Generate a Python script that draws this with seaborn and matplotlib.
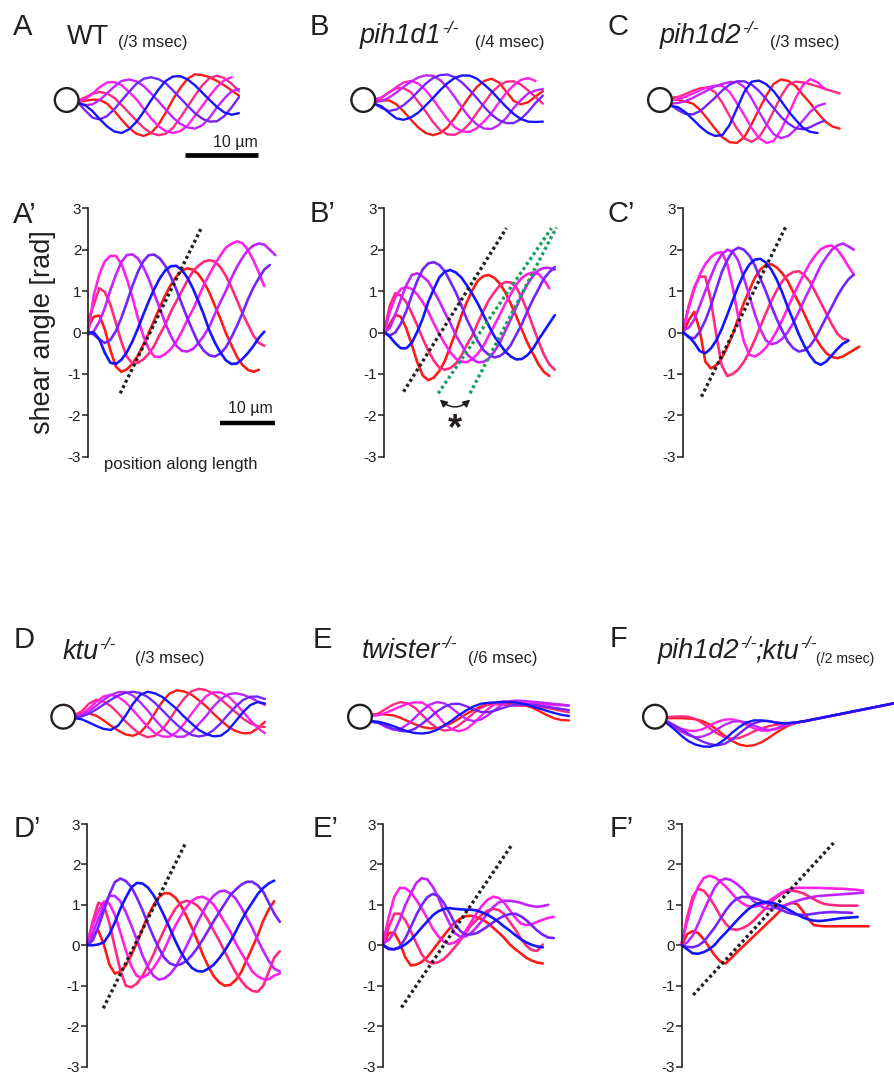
import matplotlib
matplotlib.use("Agg")
import matplotlib.pyplot as plt
import seaborn as sns
from matplotlib.patches import Circle

# ---------------- colours / frames ----------------
frames = ["red", "rose", "magenta", "violet", "purple", "blue"]
frame_colors = ["#ff1a1a", "#ff2a7f", "#ff22e6", "#c224ff", "#7424ff", "#1414ff"]

# ---------------- shear-angle data (x: µm along length, y: rad) ----------------
pos_A = [0, 1, 2, 3, 4, 5, 6, 7, 8, 9, 10, 11, 12, 13, 14, 15, 16, 17, 18, 19, 20, 21, 22, 23, 24, 25, 26, 27, 28, 29, 30, 31, 32, 33, 34]
shear_A_red = [0.14, 0.38, 0.41, 0.08, -0.42, -0.82, -0.95, -0.89, -0.76, -0.56, -0.30, -0.01, 0.30, 0.61, 0.90, 1.15, 1.35, 1.49, 1.55, 1.52, 1.41, 1.22, 0.97, 0.65, 0.34, -0.01, -0.30, -0.58, -0.78, -0.90, -0.95, -0.90]
shear_A_rose = [0.30, 0.67, 1.07, 0.98, 0.68, 0.24, -0.22, -0.58, -0.75, -0.73, -0.65, -0.51, -0.32, -0.05, 0.19, 0.50, 0.75, 1.00, 1.25, 1.47, 1.61, 1.71, 1.75, 1.71, 1.58, 1.37, 1.10, 0.79, 0.47, 0.20, -0.07, -0.25, -0.32]
shear_A_magenta = [0.0, 0.9, 1.4, 1.72, 1.85, 1.85, 1.66, 1.30, 0.86, 0.36, -0.08, -0.40, -0.58, -0.59, -0.52, -0.40, -0.22, 0.02, 0.30, 0.55, 0.84, 1.15, 1.40, 1.64, 1.86, 2.05, 2.14, 2.2, 2.16, 2.0, 1.75, 1.45, 1.12]
shear_A_violet = [-0.05, 0.03, 0.26, 0.59, 1.02, 1.39, 1.70, 1.87, 1.89, 1.79, 1.58, 1.29, 0.93, 0.58, 0.22, -0.08, -0.32, -0.44, -0.46, -0.40, -0.26, -0.08, 0.14, 0.44, 0.73, 1.00, 1.31, 1.58, 1.80, 1.99, 2.10, 2.15, 2.12, 2.0, 1.87]
shear_A_purple = [0.0, -0.05, -0.17, -0.25, -0.18, 0.03, 0.35, 0.72, 1.12, 1.46, 1.72, 1.87, 1.88, 1.79, 1.61, 1.35, 1.04, 0.69, 0.35, 0.04, -0.25, -0.44, -0.55, -0.58, -0.51, -0.36, -0.12, 0.15, 0.46, 0.79, 1.08, 1.31, 1.52, 1.63]
shear_A_blue = [0.0, 0.0, -0.16, -0.49, -0.73, -0.76, -0.66, -0.48, -0.22, 0.09, 0.43, 0.76, 1.05, 1.31, 1.50, 1.60, 1.61, 1.51, 1.33, 1.07, 0.76, 0.43, 0.05, -0.24, -0.48, -0.67, -0.76, -0.75, -0.64, -0.5, -0.33, -0.13, 0.02]
guide_A = ([5.8, 20.6], [-1.47, 2.54])

pos_B = [0, 1, 2, 3, 4, 5, 6, 7, 8, 9, 10, 11, 12, 13, 14, 15, 16, 17, 18, 19, 20, 21, 22, 23, 24, 25, 26, 27, 28, 29, 30, 31]
shear_B_red = [0.0, 0.2, 0.43, 0.38, 0.10, -0.30, -0.72, -1.04, -1.15, -1.09, -0.93, -0.69, -0.34, 0.01, 0.40, 0.73, 1.02, 1.25, 1.36, 1.39, 1.32, 1.18, 0.97, 0.69, 0.39, 0.07, -0.24, -0.50, -0.76, -0.95, -1.05]
shear_B_rose = [0.05, 0.65, 0.95, 0.89, 0.73, 0.47, 0.17, -0.15, -0.44, -0.68, -0.85, -0.9, -0.86, -0.75, -0.56, -0.30, -0.07, 0.23, 0.52, 0.78, 0.97, 1.14, 1.22, 1.21, 1.09, 0.84, 0.52, 0.16, -0.20, -0.53, -0.77, -0.9]
shear_B_magenta = [0.0, 0.5, 0.85, 1.05, 1.1, 1.05, 0.92, 0.73, 0.50, 0.22, -0.04, -0.27, -0.48, -0.63, -0.70, -0.72, -0.64, -0.51, -0.33, -0.07, 0.17, 0.43, 0.70, 0.93, 1.16, 1.32, 1.41, 1.45, 1.42, 1.28, 1.07]
shear_B_violet = [0.0, 0.11, 0.43, 0.80, 1.14, 1.39, 1.43, 1.35, 1.23, 1.00, 0.76, 0.48, 0.23, -0.07, -0.29, -0.52, -0.64, -0.72, -0.71, -0.63, -0.46, -0.25, 0.04, 0.32, 0.61, 0.91, 1.16, 1.36, 1.50, 1.56, 1.56, 1.52]
shear_B_purple = [0.0, -0.07, 0.0, 0.21, 0.52, 0.90, 1.25, 1.53, 1.67, 1.70, 1.63, 1.48, 1.23, 0.97, 0.66, 0.32, 0.05, -0.21, -0.42, -0.54, -0.6, -0.57, -0.47, -0.30, -0.05, 0.20, 0.51, 0.79, 1.04, 1.30, 1.46, 1.58]
shear_B_blue = [0.0, -0.1, -0.26, -0.38, -0.38, -0.25, 0.02, 0.34, 0.74, 1.05, 1.33, 1.47, 1.51, 1.45, 1.33, 1.14, 0.93, 0.70, 0.43, 0.16, -0.09, -0.28, -0.46, -0.58, -0.65, -0.64, -0.55, -0.40, -0.18, 0.02, 0.22, 0.42]
guide_B = ([3.5, 22.2], [-1.43, 2.52])
guide_B_green1 = ([9.8, 30.4], [-1.47, 2.52])
guide_B_green2 = ([15.6, 31.3], [-1.47, 2.54])
arrow_B = ([10.1, 15.6], [-1.62, -1.62])

pos_C = [0, 1, 2, 3, 4, 5, 6, 7, 8, 9, 10, 11, 12, 13, 14, 15, 16, 17, 18, 19, 20, 21, 22, 23, 24, 25, 26, 27, 28, 29, 30, 31, 32]
shear_C_red = [0.0, 0.3, 0.5, 0.05, -0.7, -0.87, -0.79, -0.62, -0.35, -0.04, 0.35, 0.71, 1.02, 1.32, 1.52, 1.63, 1.65, 1.57, 1.43, 1.24, 0.97, 0.72, 0.45, 0.16, -0.12, -0.33, -0.50, -0.59, -0.62, -0.58, -0.50, -0.42, -0.34]
shear_C_rose = [0.05, 0.65, 1.1, 1.35, 1.35, 0.79, -0.06, -0.8, -1.05, -1.0, -0.89, -0.71, -0.47, -0.18, 0.14, 0.46, 0.76, 1.02, 1.24, 1.38, 1.46, 1.48, 1.39, 1.23, 0.98, 0.72, 0.46, 0.20, -0.03, -0.15, -0.18]
shear_C_magenta = [0.1, 0.6, 1.05, 1.4, 1.65, 1.82, 1.92, 1.94, 1.65, 1.08, 0.37, -0.21, -0.54, -0.58, -0.50, -0.37, -0.19, 0.04, 0.30, 0.60, 0.89, 1.17, 1.43, 1.67, 1.86, 2.01, 2.08, 2.1, 2.0, 1.82, 1.6, 1.4]
shear_C_violet = [0.05, 0.12, 0.31, 0.65, 1.0, 1.35, 1.67, 1.89, 2.0, 1.95, 1.73, 1.32, 0.89, 0.45, 0.08, -0.19, -0.28, -0.25, -0.15, 0.01, 0.23, 0.50, 0.79, 1.06, 1.34, 1.62, 1.82, 2.0, 2.1, 2.15, 2.08, 2.0]
shear_C_purple = [0.0, -0.12, -0.14, 0.02, 0.29, 0.64, 1.05, 1.46, 1.75, 1.97, 2.05, 2.0, 1.86, 1.62, 1.30, 1.0, 0.64, 0.32, 0.04, -0.22, -0.38, -0.46, -0.43, -0.33, -0.14, 0.11, 0.37, 0.62, 0.88, 1.1, 1.28, 1.4]
shear_C_blue = [0.0, -0.1, -0.25, -0.45, -0.5, -0.39, -0.19, 0.09, 0.43, 0.78, 1.12, 1.42, 1.64, 1.76, 1.78, 1.69, 1.52, 1.27, 0.96, 0.61, 0.29, -0.04, -0.32, -0.55, -0.72, -0.78, -0.7, -0.55, -0.4, -0.27, -0.2]
guide_C = ([3.3, 18.8], [-1.55, 2.6])

pos_D = [0, 1, 2, 3, 4, 5, 6, 7, 8, 9, 10, 11, 12, 13, 14, 15, 16, 17, 18, 19, 20, 21, 22, 23, 24, 25, 26, 27, 28, 29, 30, 31, 32, 33, 34, 35]
shear_D_red = [0.0, 0.25, 0.37, 0.02, -0.47, -0.7, -0.65, -0.50, -0.24, 0.06, 0.39, 0.72, 0.98, 1.19, 1.29, 1.28, 1.18, 0.99, 0.73, 0.44, 0.12, -0.23, -0.52, -0.77, -0.92, -1.0, -0.98, -0.86, -0.66, -0.36, -0.06, 0.25, 0.61, 0.89, 1.09]
shear_D_rose = [0.05, 0.6, 1.05, 1.0, 0.56, -0.04, -0.62, -1.0, -1.04, -0.95, -0.76, -0.51, -0.24, 0.09, 0.38, 0.67, 0.90, 1.05, 1.1, 1.07, 0.98, 0.83, 0.61, 0.36, 0.11, -0.16, -0.43, -0.68, -0.88, -1.04, -1.13, -1.15, -1.0, -0.65, -0.3, -0.15]
shear_D_magenta = [0.1, 0.5, 0.85, 1.08, 1.03, 0.76, 0.32, -0.12, -0.52, -0.76, -0.8, -0.72, -0.57, -0.36, -0.11, 0.20, 0.48, 0.72, 0.94, 1.10, 1.18, 1.2, 1.13, 1.0, 0.79, 0.56, 0.34, 0.05, -0.19, -0.42, -0.65, -0.77, -0.84, -0.84, -0.75, -0.7]
shear_D_violet = [0.05, 0.3, 0.65, 0.98, 1.22, 1.22, 1.09, 0.82, 0.49, 0.14, -0.24, -0.54, -0.75, -0.85, -0.82, -0.72, -0.55, -0.30, -0.03, 0.25, 0.56, 0.82, 1.06, 1.23, 1.33, 1.35, 1.28, 1.15, 0.93, 0.68, 0.43, 0.13, -0.14, -0.39, -0.58, -0.65]
shear_D_purple = [0.0, 0.12, 0.45, 0.85, 1.25, 1.56, 1.65, 1.59, 1.44, 1.18, 0.88, 0.54, 0.22, -0.07, -0.31, -0.45, -0.5, -0.47, -0.39, -0.25, -0.07, 0.14, 0.37, 0.60, 0.82, 1.03, 1.24, 1.38, 1.50, 1.57, 1.57, 1.48, 1.32, 1.05, 0.78, 0.58]
shear_D_blue = [0.0, 0.0, 0.02, 0.07, 0.27, 0.56, 0.90, 1.18, 1.43, 1.54, 1.53, 1.43, 1.25, 1.0, 0.72, 0.42, 0.11, -0.17, -0.39, -0.56, -0.64, -0.65, -0.58, -0.48, -0.32, -0.13, 0.09, 0.34, 0.61, 0.85, 1.06, 1.27, 1.42, 1.53, 1.6]
guide_D = ([2.9, 17.8], [-1.56, 2.51])

pos_E = [0, 1, 2, 3, 4, 5, 6, 7, 8, 9, 10, 11, 12, 13, 14, 15, 16, 17, 18, 19, 20, 21, 22, 23, 24, 25, 26, 27, 28, 29, 30, 31]
shear_E_red = [0.0, 0.3, 0.31, 0.06, -0.30, -0.5, -0.48, -0.41, -0.29, -0.12, 0.06, 0.24, 0.41, 0.56, 0.66, 0.72, 0.73, 0.69, 0.64, 0.55, 0.43, 0.31, 0.18, 0.02, -0.10, -0.20, -0.31, -0.38, -0.43, -0.45]
shear_E_rose = [0.05, 0.45, 0.78, 0.78, 0.62, 0.35, 0.05, -0.23, -0.40, -0.45, -0.42, -0.34, -0.21, -0.05, 0.12, 0.31, 0.50, 0.63, 0.77, 0.86, 0.9, 0.87, 0.77, 0.58, 0.39, 0.17, -0.01, -0.12, -0.14, 0.02]
shear_E_magenta = [0.1, 0.7, 1.2, 1.42, 1.41, 1.31, 1.12, 0.91, 0.67, 0.41, 0.22, 0.09, 0.03, 0.07, 0.17, 0.36, 0.58, 0.80, 0.99, 1.13, 1.2, 1.17, 1.05, 0.86, 0.68, 0.54, 0.5, 0.52, 0.58, 0.63, 0.68, 0.7]
shear_E_violet = [0.05, 0.13, 0.33, 0.63, 0.99, 1.28, 1.54, 1.66, 1.63, 1.45, 1.18, 0.84, 0.55, 0.30, 0.21, 0.22, 0.31, 0.45, 0.62, 0.80, 0.95, 1.06, 1.1, 1.1, 1.08, 1.05, 1.0, 0.97, 0.95, 0.97, 1.0]
shear_E_purple = [0.0, -0.1, -0.1, -0.04, 0.17, 0.45, 0.75, 1.0, 1.19, 1.27, 1.22, 1.05, 0.81, 0.54, 0.35, 0.26, 0.27, 0.30, 0.38, 0.47, 0.57, 0.66, 0.73, 0.77, 0.78, 0.72, 0.62, 0.49, 0.36, 0.26, 0.19, 0.18]
shear_E_blue = [0.0, -0.08, -0.1, -0.06, 0.02, 0.13, 0.28, 0.44, 0.59, 0.74, 0.84, 0.9, 0.92, 0.9, 0.89, 0.88, 0.88, 0.86, 0.81, 0.75, 0.67, 0.57, 0.46, 0.36, 0.25, 0.15, 0.07, 0.01, -0.03, -0.05]
guide_E = ([3.3, 23.3], [-1.54, 2.47])

pos_F = [0, 1, 2, 3, 4, 5, 6, 7, 8, 9, 10, 11, 12, 13, 14, 15, 16, 17, 18, 19, 20, 21, 22, 23, 24, 25, 26, 27, 28, 29, 30, 31, 32, 33, 34, 35]
shear_F_red = [0.0, 0.28, 0.35, 0.30, 0.15, -0.05, -0.25, -0.40, -0.45, -0.32, -0.18, -0.05, 0.08, 0.21, 0.34, 0.47, 0.60, 0.73, 0.87, 1.0, 1.05, 1.02, 0.85, 0.65, 0.5, 0.48, 0.47, 0.47, 0.47, 0.47, 0.47, 0.47, 0.47, 0.47, 0.47]
shear_F_rose = [0.05, 0.7, 1.2, 1.4, 1.35, 1.19, 0.97, 0.73, 0.53, 0.40, 0.38, 0.42, 0.49, 0.60, 0.74, 0.88, 1.02, 1.16, 1.26, 1.33, 1.35, 1.33, 1.29, 1.22, 1.14, 1.07, 1.02, 1.0, 0.99, 0.98, 0.98, 0.98, 0.98]
shear_F_magenta = [0.05, 0.6, 1.1, 1.45, 1.66, 1.72, 1.68, 1.58, 1.45, 1.30, 1.15, 1.04, 0.97, 0.95, 0.98, 1.03, 1.11, 1.20, 1.29, 1.36, 1.40, 1.42, 1.42, 1.42, 1.42, 1.42, 1.41, 1.41, 1.40, 1.40, 1.39, 1.38, 1.37, 1.35]
shear_F_violet = [0.0, 0.07, 0.24, 0.53, 0.85, 1.15, 1.43, 1.6, 1.65, 1.61, 1.52, 1.40, 1.25, 1.10, 1.0, 0.92, 0.9, 0.92, 0.96, 1.0, 1.05, 1.1, 1.14, 1.17, 1.2, 1.22, 1.23, 1.24, 1.25, 1.26, 1.27, 1.28, 1.29, 1.3]
shear_F_purple = [0.0, -0.04, -0.05, -0.01, 0.09, 0.26, 0.44, 0.65, 0.86, 1.03, 1.15, 1.2, 1.19, 1.17, 1.13, 1.07, 1.01, 0.94, 0.88, 0.82, 0.78, 0.76, 0.75, 0.76, 0.78, 0.8, 0.81, 0.82, 0.82, 0.81, 0.81, 0.8]
shear_F_blue = [0.0, -0.1, -0.2, -0.21, -0.17, -0.10, 0.01, 0.17, 0.31, 0.46, 0.61, 0.75, 0.88, 0.98, 1.04, 1.07, 1.06, 1.03, 0.98, 0.91, 0.84, 0.76, 0.69, 0.64, 0.61, 0.6, 0.61, 0.63, 0.65, 0.67, 0.68, 0.69, 0.7]
guide_F = ([2.1, 27.6], [-1.23, 2.53])

# ---------------- waveform data (x, y in µm; head at origin) ----------------
wpos_A = [1.5, 2.5, 3.5, 4.5, 5.5, 6.5, 7.5, 8.5, 9.5, 10.5, 11.5, 12.5, 13.5, 14.5, 15.5, 16.5, 17.5, 18.5, 19.5, 20.5, 21.5, 22.5, 23.5]
wave_A_red = [-0.3, -0.1, 0.05, 0.03, -0.5, -1.5, -2.7, -3.8, -4.6, -4.9, -4.5, -3.4, -1.75, 0.1, 1.65, 2.9, 3.5, 3.4, 3.1, 2.6, 2.0, 1.3, 0.6]
wave_A_rose = [-0.1, 0.35, 0.85, 1.1, 0.9, 0.3, -0.7, -1.75, -2.8, -3.8, -4.5, -4.8, -4.6, -3.8, -2.4, -0.9, 0.6, 2.0, 3.0, 3.3, 3.0, 2.2, 1.2]
wave_A_magenta = [-0.2, 0.1, 0.85, 1.75, 2.4, 2.45, 2.0, 1.1, 0.1, -1.2, -2.5, -3.55, -4.25, -4.5, -4.25, -3.5, -2.15, -0.8, 0.55, 1.8, 2.7, 3.1]
wave_A_violet = [-0.4, -0.7, -0.6, 0.0, 0.9, 1.85, 2.6, 2.8, 2.55, 1.9, 0.9, -0.15, -1.3, -2.4, -3.25, -3.75, -3.9, -3.45, -2.4, -1.0, 0.2, 1.2, 1.5]
wave_A_purple = [-0.3, -1.4, -2.4, -2.65, -2.2, -1.25, -0.05, 1.1, 2.2, 2.9, 3.1, 2.85, 2.3, 1.3, 0.25, -0.8, -1.8, -2.55, -2.95, -2.9, -2.2, -1.0, 0.4]
wave_A_blue = [-0.4, -0.7, -1.5, -2.6, -3.6, -4.3, -4.5, -4.0, -3.0, -1.6, -0.05, 1.4, 2.6, 3.2, 3.25, 2.8, 2.0, 1.0, 0.0, -0.95, -1.7, -2.0, -1.8]

wpos_B = [1.5, 2.5, 3.5, 4.5, 5.5, 6.5, 7.5, 8.5, 9.5, 10.5, 11.5, 12.5, 13.5, 14.5, 15.5, 16.5, 17.5, 18.5, 19.5, 20.5, 21.5, 22.5, 23.5, 24.5]
wave_B_red = [-0.2, -0.05, -0.05, -0.58, -1.55, -2.7, -3.75, -4.5, -4.8, -4.5, -3.7, -2.4, -0.95, 0.5, 1.8, 2.6, 2.9, 2.4, 1.15, -0.1, -0.6, -0.3, 0.5, 1.2]
wave_B_rose = [0.0, 0.34, 1.04, 1.6, 1.62, 1.05, -0.25, -1.55, -3.0, -4.15, -4.7, -4.75, -4.2, -3.2, -1.75, -0.4, 1.0, 1.95, 2.5, 2.55, 2.1, 1.3, 0.4, -0.5]
wave_B_magenta = [0.1, 0.34, 1.0, 1.76, 2.4, 2.6, 2.25, 1.35, 0.1, -1.3, -2.65, -3.75, -4.3, -4.35, -3.85, -2.9, -1.75, -0.35, 1.0, 2.0, 2.75, 3.0, 2.6]
wave_B_violet = [-0.3, -0.14, 0.33, 1.0, 1.8, 2.5, 3.07, 3.37, 3.3, 2.7, 1.7, 0.35, -1.1, -2.4, -3.35, -3.9, -3.95, -3.4, -2.45, -1.1, 0.0, 0.9, 1.3, 1.5]
wave_B_purple = [-0.5, -1.1, -1.5, -1.3, -0.7, 0.15, 1.2, 2.2, 3.0, 3.4, 3.47, 3.1, 2.35, 1.35, 0.25, -0.95, -2.0, -2.75, -3.15, -3.15, -2.6, -1.6, -0.4, 0.6]
wave_B_blue = [-0.5, -0.87, -1.73, -2.5, -2.7, -2.38, -1.72, -0.75, 0.26, 1.36, 2.3, 3.03, 3.35, 3.33, 2.9, 2.1, 1.2, 0.1, -0.95, -1.9, -2.6, -2.95, -3.0, -2.95]

wpos_C = [1.5, 2.5, 3.5, 4.5, 5.5, 6.5, 7.5, 8.5, 9.5, 10.5, 11.5, 12.5, 13.5, 14.5, 15.5, 16.5, 17.5, 18.5, 19.5, 20.5, 21.5, 22.5, 23.5, 24.5]
wave_C_red = [0.1, 0.0, -0.2, -0.5, -1.37, -2.6, -3.9, -5.07, -5.76, -5.85, -5.07, -3.3, -1.3, 0.6, 2.2, 2.8, 2.6, 1.9, 0.7, -0.45, -1.75, -2.9, -3.6, -3.9]
wave_C_rose = [0.3, 0.44, 0.82, 1.27, 1.6, 1.7, 1.07, -0.37, -2.2, -3.9, -5.25, -5.7, -5.1, -3.5, -1.5, 0.5, 2.05, 2.5, 2.4, 2.15, 1.85, 1.5, 1.2, 0.9]
wave_C_magenta = [0.0, 0.1, 0.44, 0.88, 1.36, 1.74, 1.96, 1.9, 1.1, -0.45, -2.07, -3.85, -5.2, -5.85, -5.6, -4.1, -2.0, 0.25, 2.05, 2.85, 2.4, 1.5]
wave_C_violet = [-0.5, -0.4, -0.14, 0.3, 0.82, 1.33, 1.84, 2.2, 2.45, 2.45, 1.77, 0.2, -1.6, -3.3, -4.65, -5.2, -4.9, -4.0, -2.8, -1.6, -0.8, -0.5]
wave_C_purple = [-0.7, -1.4, -1.9, -1.95, -1.5, -0.6, 0.3, 1.3, 2.1, 2.55, 2.55, 2.1, 1.24, 0.1, -1.1, -2.3, -3.2, -3.85, -4.0, -3.7, -3.2, -2.8]
wave_C_blue = [-0.8, -1.0, -1.7, -2.65, -3.65, -4.45, -4.9, -4.8, -3.4, -1.15, 1.1, 2.5, 2.65, 2.15, 1.2, -0.1, -1.5, -2.7, -3.8, -4.35, -4.5]

wpos_D = [1.5, 2.5, 3.5, 4.5, 5.5, 6.5, 7.5, 8.5, 9.5, 10.5, 11.5, 12.5, 13.5, 14.5, 15.5, 16.5, 17.5, 18.5, 19.5, 20.5, 21.5, 22.5, 23.5, 24.5, 25.5, 26.5, 27.5]
wave_D_red = [0.1, 0.4, 0.45, 0.13, -0.5, -1.24, -1.9, -2.43, -2.6, -2.17, -1.05, 0.5, 2.05, 3.17, 3.6, 3.44, 3.0, 2.24, 1.4, 0.4, -0.53, -1.36, -1.95, -2.25, -2.25, -1.6, -0.7]
wave_D_rose = [0.2, 0.73, 1.78, 2.3, 2.06, 1.43, 0.46, -0.66, -1.58, -2.39, -2.8, -2.6, -1.74, -0.42, 1.16, 2.5, 3.47, 3.8, 3.62, 3.1, 2.35, 1.5, 0.63, -0.26, -0.9, -1.3, -1.4]
wave_D_magenta = [0.1, 0.38, 1.14, 2.03, 2.77, 3.0, 2.7, 1.96, 0.9, -0.25, -1.35, -2.25, -2.7, -2.73, -2.09, -0.94, 0.39, 1.73, 2.81, 3.34, 3.3, 2.8, 1.8, 0.7, -0.46, -1.55, -2.25]
wave_D_violet = [0.0, 0.18, 0.75, 1.5, 2.3, 2.96, 3.34, 3.37, 2.87, 1.97, 0.86, -0.38, -1.5, -2.3, -2.74, -2.71, -2.11, -1.0, 0.11, 1.4, 2.42, 3.06, 3.2, 3.0, 2.6, 2.1, 1.6]
wave_D_purple = [-0.1, 0.03, 0.41, 0.99, 1.65, 2.32, 2.9, 3.26, 3.4, 3.22, 2.7, 1.88, 0.9, -0.14, -1.1, -1.9, -2.49, -2.7, -2.5, -1.82, -0.88, 0.3, 1.37, 2.28, 2.72, 2.75, 2.4]
wave_D_blue = [-0.2, -0.35, -0.78, -1.26, -1.67, -1.8, -1.2, 0.15, 1.74, 2.98, 3.4, 3.19, 2.7, 1.88, 1.02, -0.02, -0.93, -1.81, -2.36, -2.68, -2.59, -1.85, -0.63, 0.6, 1.58, 2.0, 1.8]

wpos_E = [1.5, 2.5, 3.5, 4.5, 5.5, 6.5, 7.5, 8.5, 9.5, 10.5, 11.5, 12.5, 13.5, 14.5, 15.5, 16.5, 17.5, 18.5, 19.5, 20.5, 21.5, 22.5, 23.5, 24.5, 25.5, 26.5, 27.5, 28.5]
wave_E_red = [0.3, 0.35, 0.3, 0.19, -0.14, -0.6, -1.03, -1.41, -1.6, -1.55, -1.28, -0.85, -0.27, 0.37, 0.92, 1.39, 1.72, 1.8, 1.78, 1.72, 1.6, 1.54, 1.24, 0.74, 0.22, -0.22, -0.46, -0.5]
wave_E_rose = [0.2, 0.44, 1.05, 1.64, 1.99, 1.82, 1.2, 0.23, -0.8, -1.55, -1.9, -1.73, -1.16, -0.39, 0.49, 1.23, 1.63, 1.7, 1.65, 1.55, 1.5, 1.5, 1.45, 1.35, 1.2, 1.0, 0.8, 0.6]
wave_E_magenta = [0.1, 0.2, 0.52, 0.94, 1.39, 1.75, 1.96, 1.92, 1.28, 0.24, -0.92, -1.72, -2.0, -1.68, -0.89, 0.11, 1.08, 1.85, 2.1, 2.05, 1.95, 1.85, 1.75, 1.7, 1.65, 1.6, 1.55, 1.5]
wave_E_violet = [-0.6, -0.85, -1.39, -1.77, -1.67, -1.04, -0.13, 0.86, 1.64, 2.0, 1.82, 1.19, 0.38, -0.34, -0.6, -0.38, 0.24, 1.02, 1.72, 2.14, 2.2, 2.15, 2.05, 1.95, 1.85, 1.75, 1.65, 1.55]
wave_E_purple = [-0.7, -0.85, -1.21, -1.65, -1.95, -2.0, -1.64, -0.94, -0.16, 0.7, 1.34, 1.74, 1.76, 1.43, 0.97, 0.65, 0.62, 0.85, 1.2, 1.5, 1.65, 1.7, 1.65, 1.5, 1.35, 1.2, 1.05, 0.9]
wave_E_blue = [-0.6, -0.69, -0.94, -1.26, -1.66, -2.0, -2.23, -2.3, -2.15, -1.8, -1.17, -0.54, 0.22, 0.85, 1.4, 1.77, 1.9, 1.95, 2.0, 2.0, 1.9, 1.7, 1.4, 1.1, 0.8, 0.5, 0.25, 0.1]

wpos_F = [1.5, 2.5, 3.5, 4.5, 5.5, 6.5, 7.5, 8.5, 9.5, 10.5, 11.5, 12.5, 13.5, 14.5, 15.5, 16.5, 17.5, 18.5, 19.5, 20.5, 21.5, 22.5, 23.5, 24.5, 25.5, 26.5, 27.5, 28.5, 29.5, 30.5, 31.5, 32.5]
wave_F_red = [-0.2, -0.2, -0.2, -0.25, -0.35, -0.6, -1.1, -1.8, -2.6, -3.3, -3.8, -4.0, -3.9, -3.5, -2.9, -2.2, -1.6, -1.1, -0.8, -0.62, -0.42, -0.22, -0.02, 0.18, 0.38, 0.58, 0.78, 0.98, 1.18, 1.38, 1.58, 1.78]
wave_F_rose = [-0.1, 0.0, 0.05, 0.0, -0.3, -0.9, -1.6, -2.3, -2.8, -3.0, -2.9, -2.5, -2.0, -1.6, -1.3, -1.1, -1.0, -0.9, -0.75, -0.6, -0.4, -0.2, 0.0, 0.2, 0.4, 0.6, 0.8, 1.0, 1.2, 1.4, 1.6, 1.8]
wave_F_magenta = [-0.5, -1.1, -1.6, -1.9, -1.95, -1.7, -1.2, -0.7, -0.4, -0.35, -0.6, -1.1, -1.6, -1.9, -1.9, -1.6, -1.2, -0.9, -0.75, -0.58, -0.38, -0.18, 0.02, 0.22, 0.42, 0.62, 0.82, 1.02, 1.22, 1.42, 1.62, 1.82]
wave_F_violet = [-0.6, -1.3, -2.0, -2.5, -2.8, -2.7, -2.3, -1.7, -1.1, -0.7, -0.6, -0.8, -1.2, -1.6, -1.8, -1.7, -1.3, -1.0, -0.75, -0.6, -0.4, -0.2, 0.0, 0.2, 0.4, 0.6, 0.8, 1.0, 1.2, 1.4, 1.6, 1.8]
wave_F_purple = [-0.6, -1.1, -1.7, -2.3, -2.9, -3.4, -3.75, -3.9, -3.7, -3.1, -2.3, -1.5, -0.9, -0.6, -0.6, -0.8, -0.9, -0.85, -0.75, -0.6, -0.4, -0.2, 0.0, 0.2, 0.4, 0.6, 0.8, 1.0, 1.2, 1.4, 1.6, 1.8]
wave_F_blue = [-0.8, -1.6, -2.5, -3.3, -3.8, -4.05, -4.1, -3.8, -3.1, -2.2, -1.4, -0.8, -0.5, -0.5, -0.6, -0.8, -0.9, -0.85, -0.75, -0.58, -0.38, -0.18, 0.02, 0.22, 0.42, 0.62, 0.82, 1.02, 1.22, 1.42, 1.62, 1.82]

scalebar_wave_A = [16.1, 26.1]
scalebar_shear_A = [23.9, 33.9]
yticks = [3, 2, 1, 0, -1, -2, -3]
ytick_labels = ["3", "2", "1", "0", "-1", "-2", "-3"]

# ---------------- figure ----------------
sns.set_theme(style="white")
plt.rcParams["font.family"] = ["Liberation Sans", "DejaVu Sans"]
plt.rcParams["axes.unicode_minus"] = False
INK = "#231f20"

W, H = 895, 1077
fig = plt.figure(figsize=(W / 100, H / 100), dpi=100)
fig.patch.set_facecolor("white")


def px_axes(x0, y0, w, h):
    return fig.add_axes([x0 / W, 1 - (y0 + h) / H, w / W, h / H])


def ftext(x, y, s, **kw):
    kw.setdefault("color", INK)
    return fig.text(x / W, 1 - y / H, s, **kw)


renderer = fig.canvas.get_renderer()


def chain(x, y, parts):
    for s, size, style, dy in parts:
        t = ftext(x, y - dy, s, fontsize=size, style=style, va="baseline", ha="left")
        x += t.get_window_extent(renderer=renderer).width
    return x


# ---------------- shear angle panels ----------------
SX = 5.5  # px per µm
shear_panels = [
    ("A’", 88.3, 208.3, 456.7, pos_A, [shear_A_red, shear_A_rose, shear_A_magenta, shear_A_violet, shear_A_purple, shear_A_blue], guide_A, 12.7, 223),
    ("B’", 384.3, 208.3, 456.7, pos_B, [shear_B_red, shear_B_rose, shear_B_magenta, shear_B_violet, shear_B_purple, shear_B_blue], guide_B, 310, 222),
    ("C’", 683.3, 208.3, 456.7, pos_C, [shear_C_red, shear_C_rose, shear_C_magenta, shear_C_violet, shear_C_purple, shear_C_blue], guide_C, 607.7, 222),
    ("D’", 87.3, 824.0, 1066.5, pos_D, [shear_D_red, shear_D_rose, shear_D_magenta, shear_D_violet, shear_D_purple, shear_D_blue], guide_D, 13.3, 836.7),
    ("E’", 383.3, 824.0, 1066.5, pos_E, [shear_E_red, shear_E_rose, shear_E_magenta, shear_E_violet, shear_E_purple, shear_E_blue], guide_E, 313, 836.7),
    ("F’", 681.7, 824.0, 1066.5, pos_F, [shear_F_red, shear_F_rose, shear_F_magenta, shear_F_violet, shear_F_purple, shear_F_blue], guide_F, 610, 836.7),
]

shear_axes = {}
for label, sx, ytop, ybot, pos, curves, guide, lx, ly in shear_panels:
    ax = px_axes(sx, ytop, 38 * SX, ybot - ytop)
    ax.set_xlim(0, 38)
    ax.set_ylim(-3, 3)
    ax.patch.set_alpha(0)
    for side in ("top", "right", "bottom"):
        ax.spines[side].set_visible(False)
    ax.spines["left"].set_color(INK)
    ax.spines["left"].set_linewidth(1.2)
    ax.set_xticks([])
    ax.set_yticks(yticks)
    ax.set_yticklabels(ytick_labels)
    ax.tick_params(axis="y", direction="out", length=4.5, width=1.1, color=INK,
                   labelsize=11, labelcolor=INK, pad=0.5, left=True)
    ax.grid(False)
    for ys, col in zip(curves, frame_colors):
        sns.lineplot(x=pos[:len(ys)], y=ys, ax=ax, color=col, linewidth=1.9, sort=False,
                     estimator=None, legend=False, clip_on=False, solid_joinstyle="round")
    ax.plot(guide[0], guide[1], color=INK, linewidth=2.4, linestyle=(0, (0.9, 0.9)),
            dash_capstyle="butt", zorder=5, clip_on=False)
    ax.set_xlabel("")
    ax.set_ylabel("")
    ftext(lx, ly, label, fontsize=21, va="baseline", ha="left")
    shear_axes[label] = ax

# extras in A'
axA = shear_axes["A’"]
axA.plot(scalebar_shear_A, [-2.19, -2.19], color="black", linewidth=3.2, solid_capstyle="butt", clip_on=False)
axA.text(sum(scalebar_shear_A) / 2 + 0.5, -1.95, "10 µm", fontsize=11.5, ha="center", va="baseline", color=INK)
axA.text(16.9, -3.3, "position along length", fontsize=12, ha="center", va="baseline", color=INK)
ftext(43, 332.5, "shear angle [rad]", fontsize=19.5, rotation=90, ha="center", va="center")

# extras in B'
axB = shear_axes["B’"]
for g in (guide_B_green1, guide_B_green2):
    axB.plot(g[0], g[1], color="#17a05d", linewidth=2.4, linestyle=(0, (0.9, 0.9)),
             dash_capstyle="butt", zorder=4, clip_on=False)
axB.annotate("", xy=(arrow_B[0][1], arrow_B[1][1]), xytext=(arrow_B[0][0], arrow_B[1][0]),
             arrowprops=dict(arrowstyle="<|-|>,head_length=0.35,head_width=0.18", connectionstyle="arc3,rad=0.45",
                             color=INK, lw=1.1, shrinkA=0, shrinkB=0))
axB.text(12.85, -2.35, "*", fontsize=26, ha="center", va="center", color=INK, fontweight="bold")

# ---------------- waveform panels ----------------
S = 7.33  # px per µm
wave_panels = [
    ("A", 66.7, 100.0, wpos_A, [wave_A_red, wave_A_rose, wave_A_magenta, wave_A_violet, wave_A_purple, wave_A_blue], 12.7, 35),
    ("B", 363.3, 100.0, wpos_B, [wave_B_red, wave_B_rose, wave_B_magenta, wave_B_violet, wave_B_purple, wave_B_blue], 310, 35),
    ("C", 660.0, 100.0, wpos_C, [wave_C_red, wave_C_rose, wave_C_magenta, wave_C_violet, wave_C_purple, wave_C_blue], 607.7, 35),
    ("D", 63.3, 716.7, wpos_D, [wave_D_red, wave_D_rose, wave_D_magenta, wave_D_violet, wave_D_purple, wave_D_blue], 13.3, 648),
    ("E", 360.0, 716.7, wpos_E, [wave_E_red, wave_E_rose, wave_E_magenta, wave_E_violet, wave_E_purple, wave_E_blue], 313, 648),
    ("F", 655.0, 716.7, wpos_F, [wave_F_red, wave_F_rose, wave_F_magenta, wave_F_violet, wave_F_purple, wave_F_blue], 610, 646.7),
]
wave_axes = {}
for label, hx, hy, wpos, curves, lx, ly in wave_panels:
    ax = px_axes(hx - 3 * S, hy - 5 * S, 40 * S, 13 * S)
    ax.set_xlim(-3, 37)
    ax.set_ylim(-8, 5)
    ax.axis("off")
    for ys, col in zip(curves, frame_colors):
        sns.lineplot(x=wpos[:len(ys)], y=ys, ax=ax, color=col, linewidth=1.7, sort=False,
                     estimator=None, legend=False, clip_on=False, solid_joinstyle="round")
    ax.add_patch(Circle((0, 0), 1.62, facecolor="white", edgecolor=INK, linewidth=1.7, zorder=10))
    ftext(lx, ly, label, fontsize=21, va="baseline", ha="left")
    wave_axes[label] = ax

axW = wave_axes["A"]
axW.plot(scalebar_wave_A, [-7.5, -7.5], color="black", linewidth=3.4, solid_capstyle="butt", clip_on=False)
axW.text(23.0, -6.45, "10 µm", fontsize=11.5, ha="center", va="baseline", color=INK)

# ---------------- titles ----------------
SUP = 10
TS = 19.5
chain(67, 44, [("WT", TS, "normal", 0)])
ftext(118, 47, "(/3 msec)", fontsize=12, va="baseline", ha="left")
chain(360, 43, [("pih1d1", TS, "italic", 0), ("-/-", 12.5, "italic", SUP)])
ftext(475, 47.5, "(/4 msec)", fontsize=12, va="baseline", ha="left")
chain(660, 43, [("pih1d2", TS, "italic", 0), ("-/-", 12.5, "italic", SUP)])
ftext(770, 47.5, "(/3 msec)", fontsize=12, va="baseline", ha="left")
chain(63, 659, [("ktu", TS, "italic", 0), ("-/-", 12.5, "italic", SUP)])
ftext(135, 663.5, "(/3 msec)", fontsize=12, va="baseline", ha="left")
chain(362, 658.5, [("twister", TS, "italic", 0), ("-/-", 12.5, "italic", SUP)])
ftext(468, 663, "(/6 msec)", fontsize=12, va="baseline", ha="left")
chain(658, 658, [("pih1d2", TS, "italic", 0), ("-/-", 12.5, "italic", SUP), (";ktu", TS, "italic", 0),
                 ("-/-", 12.5, "italic", SUP), ("(/2 msec)", 10, "normal", -5)])

fig.savefig("out.png", dpi=100, facecolor="white")
